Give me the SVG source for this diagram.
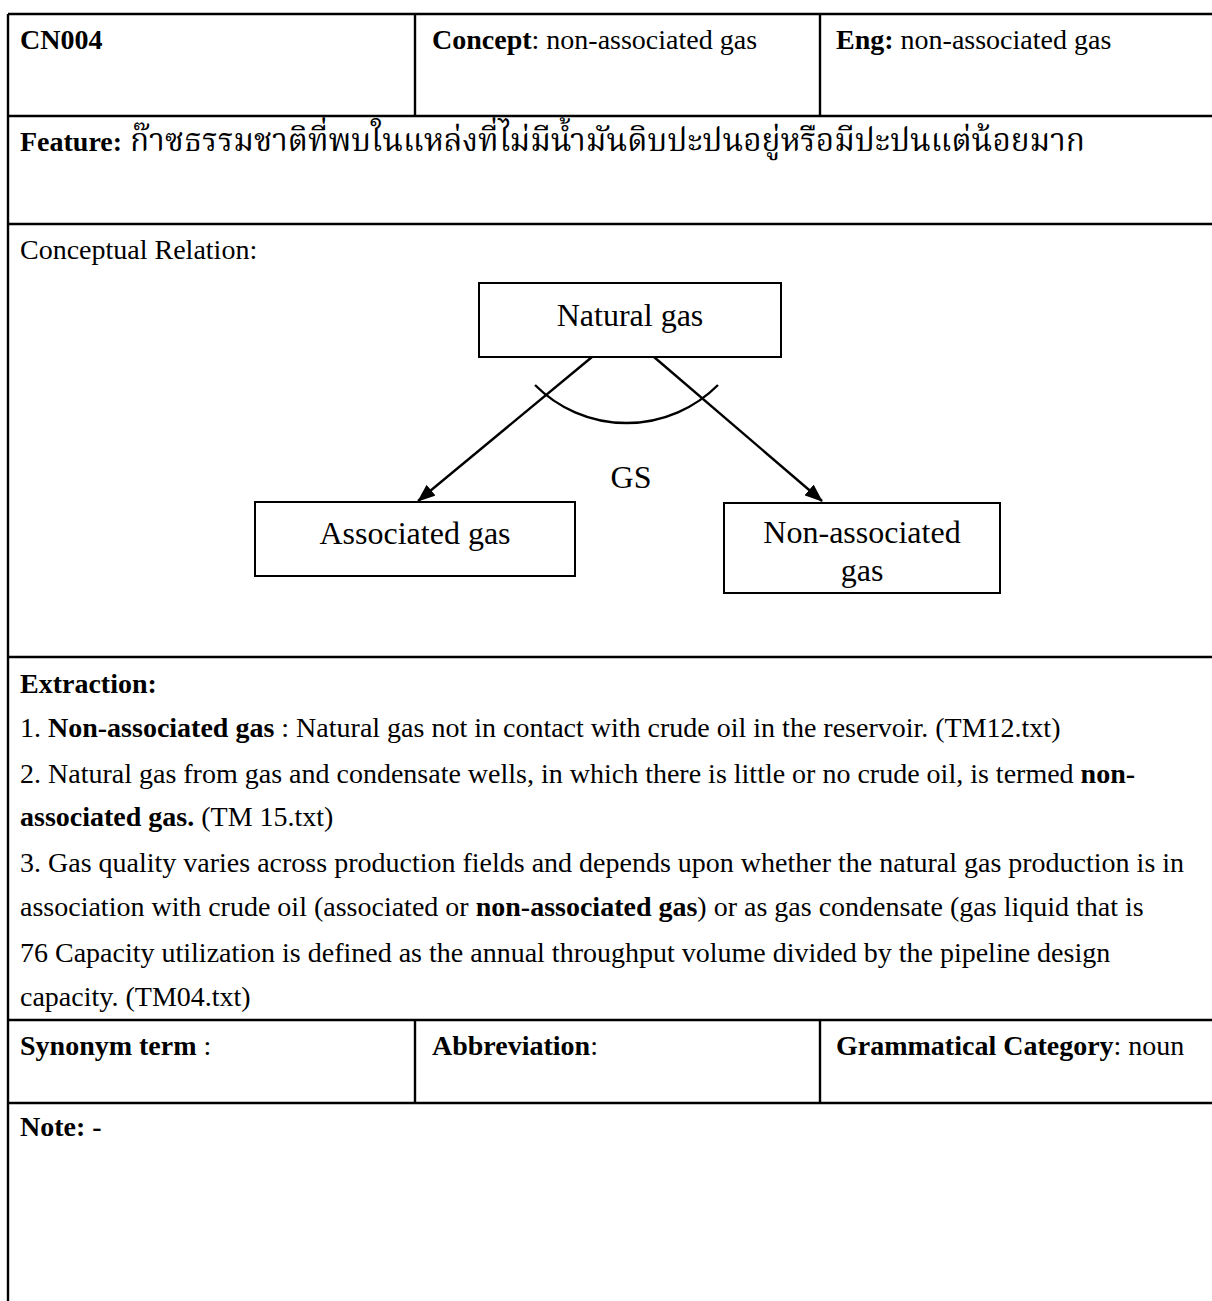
<svg xmlns="http://www.w3.org/2000/svg" width="1212" height="1301" viewBox="0 0 1212 1301">
  <style>
    .t { font-family: "Liberation Serif", "Times New Roman", serif; font-size: 28px; fill: #000; }
    .b { font-weight: bold; }
    .th { font-family: "Liberation Serif", "Noto Serif Thai", "Noto Sans Thai", "Tlwg Typo", "Garuda", serif; font-size: 32px; fill: #000; }
    .grid { stroke: #000; stroke-width: 2.4; fill: none; }
    .box { fill: #fff; stroke: #000; stroke-width: 2; }
    .lbl { font-family: "Liberation Serif", "Times New Roman", serif; font-size: 32px; fill: #000; text-anchor: middle; }
    .edge { stroke: #000; stroke-width: 2.4; fill: none; }
  </style>
  <defs>
    <marker id="arrow" viewBox="0 0 18 14" refX="17" refY="7" markerWidth="18" markerHeight="14" markerUnits="userSpaceOnUse" orient="auto">
      <path d="M0,0 L18,7 L0,14 Z" fill="#000"/>
    </marker>
  </defs>
  <rect x="0" y="0" width="1212" height="1301" fill="#fff"/>

  <!-- table rules -->
  <g id="table" class="grid">
    <line x1="8" y1="14" x2="1212" y2="14"/>
    <line x1="8" y1="14" x2="8" y2="1301"/>
    <line x1="8" y1="116" x2="1212" y2="116"/>
    <line x1="8" y1="224" x2="1212" y2="224"/>
    <line x1="8" y1="657" x2="1212" y2="657"/>
    <line x1="8" y1="1020" x2="1212" y2="1020"/>
    <line x1="8" y1="1103" x2="1212" y2="1103"/>
    <line x1="415" y1="14" x2="415" y2="116"/>
    <line x1="820" y1="14" x2="820" y2="116"/>
    <line x1="415" y1="1020" x2="415" y2="1103"/>
    <line x1="820" y1="1020" x2="820" y2="1103"/>
  </g>

  <!-- header row -->
  <g id="header">
    <text class="t b" x="20" y="49">CN004</text>
    <text class="t" x="432" y="49"><tspan class="b">Concept</tspan>: non-associated gas</text>
    <text class="t" x="836" y="49"><tspan class="b">Eng:</tspan> non-associated gas</text>
  </g>

  <!-- feature row -->
  <g id="feature">
    <text class="t b" x="20" y="151">Feature:</text>
    <text class="th" x="130" y="151" textLength="955" lengthAdjust="spacingAndGlyphs">ก๊าซธรรมชาติที่พบในแหล่งที่ไม่มีน้ำมันดิบปะปนอยู่หรือมีปะปนแต่น้อยมาก</text>
  </g>

  <!-- conceptual relation -->
  <text class="t" x="20" y="259">Conceptual Relation:</text>

  <g id="connectors">
    <line class="edge" x1="592" y1="357" x2="418" y2="501" marker-end="url(#arrow)"/>
    <line class="edge" x1="654" y1="357" x2="822" y2="501" marker-end="url(#arrow)"/>
    <path class="edge" d="M535,385 A129,129 0 0 0 718,385"/>
    <text class="lbl" x="631" y="488">GS</text>
  </g>

  <g id="node-natural-gas">
    <rect class="box" x="479" y="283" width="302" height="74"/>
    <text class="lbl" x="630" y="326">Natural gas</text>
  </g>
  <g id="node-associated-gas">
    <rect class="box" x="255" y="502" width="320" height="74"/>
    <text class="lbl" x="415" y="544">Associated gas</text>
  </g>
  <g id="node-non-associated-gas">
    <rect class="box" x="724" y="503" width="276" height="90"/>
    <text class="lbl" x="862" y="543">Non-associated</text>
    <text class="lbl" x="862" y="581">gas</text>
  </g>

  <!-- extraction -->
  <g id="extraction">
    <text class="t b" x="20" y="693">Extraction:</text>
    <text class="t" x="20" y="737">1. <tspan class="b">Non-associated gas</tspan> : Natural gas not in contact with crude oil in the reservoir. (TM12.txt)</text>
    <text class="t" x="20" y="783">2. Natural gas from gas and condensate wells, in which there is little or no crude oil, is termed <tspan class="b">non-</tspan></text>
    <text class="t" x="20" y="826"><tspan class="b">associated gas.</tspan> (TM 15.txt)</text>
    <text class="t" x="20" y="872">3. Gas quality varies across production fields and depends upon whether the natural gas production is in</text>
    <text class="t" x="20" y="916">association with crude oil (associated or <tspan class="b">non-associated gas</tspan>) or as gas condensate (gas liquid that is</text>
    <text class="t" x="20" y="962">76 Capacity utilization is defined as the annual throughput volume divided by the pipeline design</text>
    <text class="t" x="20" y="1006">capacity. (TM04.txt)</text>
  </g>

  <!-- synonym row -->
  <g id="synonym">
    <text class="t b" x="20" y="1055">Synonym term <tspan font-weight="normal">:</tspan></text>
    <text class="t" x="432" y="1055"><tspan class="b">Abbreviation</tspan>:</text>
    <text class="t" x="836" y="1055"><tspan class="b">Grammatical Category</tspan>: noun</text>
  </g>

  <!-- note -->
  <text class="t b" x="20" y="1136">Note: -</text>
</svg>
